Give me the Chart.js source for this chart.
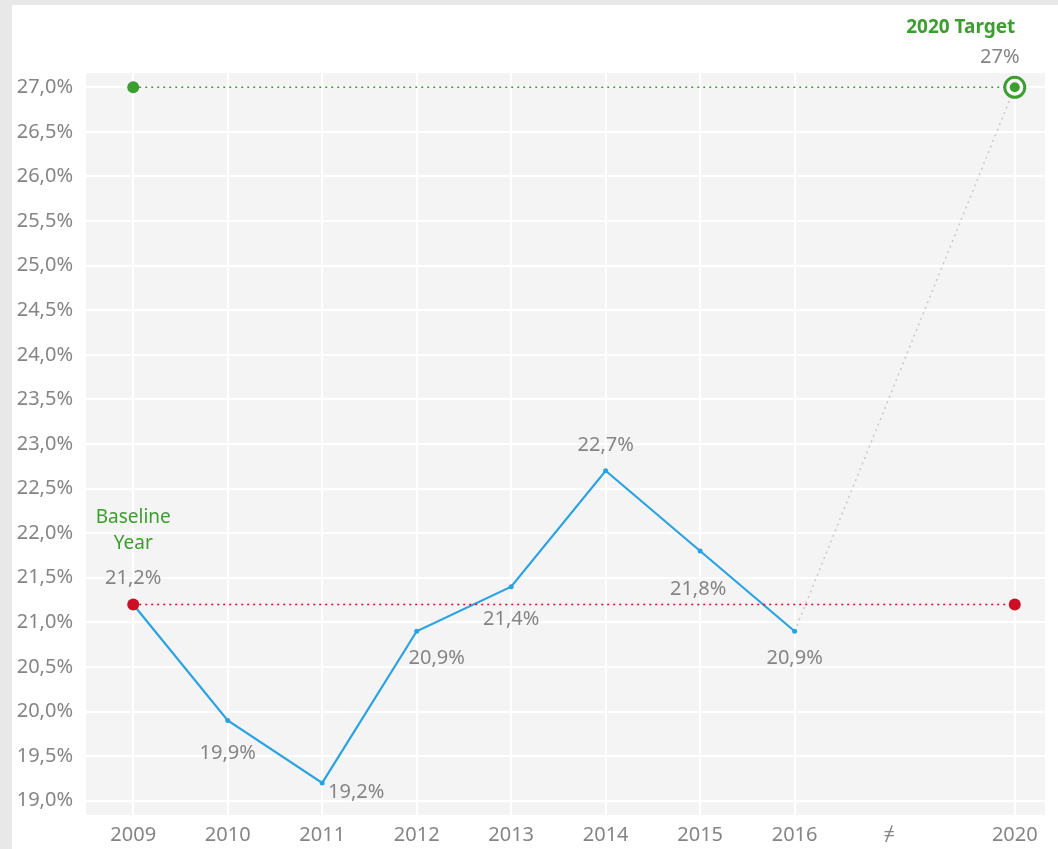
<!DOCTYPE html>
<html>
<head>
<meta charset="utf-8">
<script src="https://cdn.jsdelivr.net/npm/chart.js@4/dist/chart.umd.min.js"></script>
<style>
  html, body { margin: 0; padding: 0; background: #e8e8e8; }
  #wrap { width: 1058px; height: 849px; position: relative; }
</style>
</head>
<body>
<div id="wrap"><canvas id="graph"></canvas></div>
<script>
const years = ['2009', '2010', '2011', '2012', '2013', '2014', '2015', '2016', '≠', '2020'];
// slot of each year on the x axis (2020 sits after a break)
const yearSlot = [0, 1, 2, 3, 4, 5, 6, 7, 8, 9.33];
const yTicks = [19, 19.5, 20, 20.5, 21, 21.5, 22, 22.5, 23, 23.5, 24, 24.5, 25, 25.5, 26, 26.5, 27];

const actual = [21.2, 19.9, 19.2, 20.9, 21.4, 22.7, 21.8, 20.9];
const baseline = 21.2;
const target = 27;

// label offsets from each point, in pixels
const labelOffset = [[0, -26], [0, 33], [34, 9], [20, 27], [0, 33], [0, -25], [-2, 38], [0, 27]];

const GREEN = '#3b9e2e';
const RED = '#cc0f24';
const BLUE = '#2ba3e1';
const GREY_TXT = '#858585';
const FONT = '"Noto Sans", sans-serif';

const fmt = (v) => v.toFixed(1).replace('.', ',') + '%';

const last = yearSlot.length - 1;
const actualPts = actual.map((v, i) => ({ x: yearSlot[i], y: v }));

const background = {
	id: 'background',
	beforeDraw(chart) {
		const { ctx, chartArea: a } = chart;
		ctx.save();
		ctx.fillStyle = '#e8e8e8';
		ctx.fillRect(0, 0, chart.width, chart.height);
		ctx.fillStyle = '#ffffff';
		ctx.fillRect(12, 5, chart.width - 12, chart.height - 5);
		ctx.fillStyle = '#f4f4f4';
		ctx.fillRect(a.left, a.top, a.right - a.left, a.bottom - a.top);
		ctx.restore();
	},
};

const labels = {
	id: 'labels',
	afterDatasetsDraw(chart) {
		const { ctx } = chart;
		const xs = chart.scales.x;
		const ys = chart.scales.y;
		ctx.save();
		ctx.textAlign = 'center';
		ctx.textBaseline = 'middle';
		ctx.font = '20px ' + FONT;
		ctx.fillStyle = GREY_TXT;
		actual.forEach((v, i) => {
			const px = xs.getPixelForValue(yearSlot[i]);
			const py = ys.getPixelForValue(v);
			ctx.fillText(fmt(v), px + labelOffset[i][0], py + labelOffset[i][1]);
		});

		const tx = xs.getPixelForValue(yearSlot[last]);
		const ty = ys.getPixelForValue(target);
		ctx.fillText(target + '%', tx - 15, ty - 30);

		ctx.fillStyle = GREEN;
		ctx.font = 'bold 19px ' + FONT;
		ctx.fillText('2020 Target', tx - 54, ty - 60);

		const bx = xs.getPixelForValue(yearSlot[0]);
		const by = ys.getPixelForValue(baseline);
		ctx.font = '19px ' + FONT;
		ctx.fillText('Baseline', bx, by - 87);
		ctx.fillText('Year', bx, by - 61);
		ctx.restore();
	},
};

const config = {
	type: 'line',
	data: {
		datasets: [
			{
				// trend to target
				data: [
					{ x: yearSlot[7], y: actual[7] },
					{ x: yearSlot[last], y: target },
				],
				borderColor: '#c9c9c9',
				borderWidth: 1.5,
				borderDash: [2, 4],
				pointRadius: 0,
				order: 5,
			},
			{
				data: actualPts,
				borderColor: BLUE,
				borderWidth: 2.2,
				tension: 0,
				pointRadius: 2.5,
				pointBackgroundColor: BLUE,
				pointBorderWidth: 0,
				order: 4,
			},
			{
				data: [
					{ x: yearSlot[0], y: baseline },
					{ x: yearSlot[last], y: baseline },
				],
				borderColor: RED,
				borderWidth: 1.5,
				borderDash: [2, 4],
				pointRadius: 6,
				pointBackgroundColor: RED,
				pointBorderWidth: 0,
				order: 3,
			},
			{
				data: [
					{ x: yearSlot[0], y: target },
					{ x: yearSlot[last], y: target },
				],
				borderColor: GREEN,
				borderWidth: 1.5,
				borderDash: [2, 4],
				pointRadius: [6, 10],
				pointBackgroundColor: [GREEN, '#ffffff'],
				pointBorderColor: GREEN,
				pointBorderWidth: [0, 3],
				order: 2,
			},
			{
				// target bullseye core
				data: [{ x: yearSlot[last], y: target }],
				showLine: false,
				pointRadius: 5,
				pointBackgroundColor: GREEN,
				pointBorderWidth: 0,
				order: 1,
			},
		],
	},
	options: {
		responsive: false,
		animation: false,
		clip: false,
		layout: { padding: { top: 73, right: 13, left: 0, bottom: 0 } },
		scales: {
			x: {
				type: 'linear',
				min: -0.5,
				max: 9.65,
				afterBuildTicks: (s) => {
					s.ticks = yearSlot.map((v) => ({ value: v }));
				},
				afterFit: (s) => {
					s.height = 34;
				},
				border: { display: false },
				grid: {
					color: (c) => (years[c.index] === '≠' ? 'rgba(0,0,0,0)' : '#ffffff'),
					lineWidth: 2,
					drawTicks: false,
				},
				ticks: {
					padding: 8,
					autoSkip: false,
					maxRotation: 0,
					color: GREY_TXT,
					font: { family: FONT, size: 20 },
					callback: (v, i) => years[i],
				},
			},
			y: {
				min: 18.84,
				max: 27.16,
				afterBuildTicks: (s) => {
					s.ticks = yTicks.map((v) => ({ value: v }));
				},
				afterFit: (s) => {
					s.width = 86;
				},
				border: { display: false },
				grid: { color: '#ffffff', lineWidth: 2, drawTicks: false },
				ticks: {
					padding: 13,
					color: GREY_TXT,
					font: { family: FONT, size: 20 },
					callback: (v) => fmt(v),
				},
			},
		},
		plugins: {
			legend: { display: false },
			tooltip: { enabled: false },
		},
	},
	plugins: [background, labels],
};

const canvas = document.getElementById('graph');
canvas.width = 1058;
canvas.height = 849;
canvas.style.width = '1058px';
canvas.style.height = '849px';
new Chart(canvas, config);
</script>
</body>
</html>
